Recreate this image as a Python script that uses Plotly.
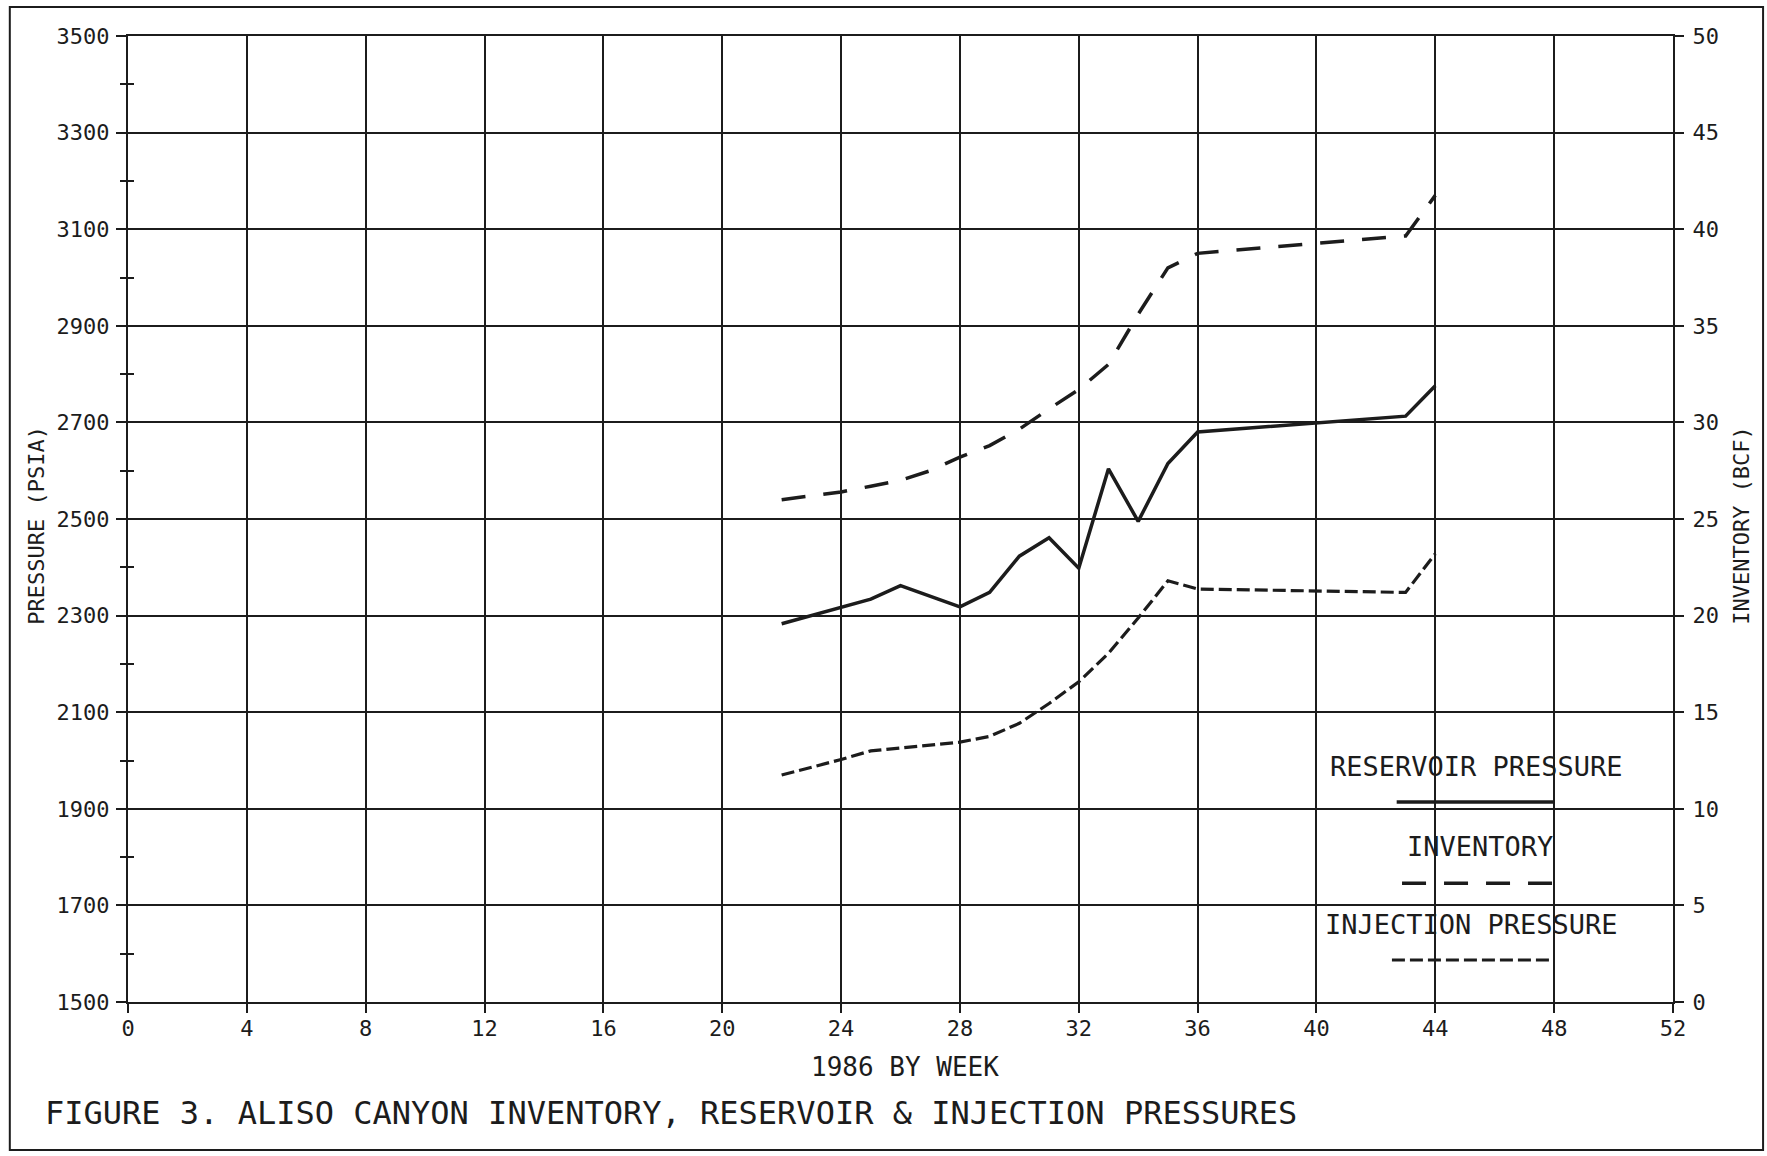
import plotly.graph_objects as go

# ---- data: 1986, by week ----
res_weeks = [22, 24, 25, 26, 28, 29, 30, 31, 32, 33, 34, 35, 36, 43, 44]
res_psia = [2283, 2316, 2334, 2362, 2318, 2348, 2423, 2461, 2398, 2604, 2495, 2615, 2680, 2713, 2776]

inv_weeks = [22, 23, 24, 25, 26, 27, 28, 29, 30, 31, 32, 33, 34, 35, 36, 43, 44]
inv_bcf = [26.0, 26.2, 26.4, 26.7, 27.0, 27.5, 28.2, 28.8, 29.65, 30.7, 31.7, 33.0, 35.6, 38.0, 38.75, 39.65, 41.75]

inj_weeks = [22, 23, 24, 25, 26, 27, 28, 29, 30, 31, 32, 33, 34, 35, 36, 43, 44]
inj_psia = [1970, 1986, 2002, 2020, 2026, 2032, 2038, 2050, 2077, 2118, 2163, 2222, 2295, 2372, 2355, 2348, 2428]

week_ticks = list(range(0, 53, 4))
psia_ticks = list(range(1500, 3501, 200))
psia_minor = list(range(1600, 3500, 200))
bcf_ticks = list(range(0, 51, 5))

series_names = ["RESERVOIR PRESSURE", "INVENTORY", "INJECTION PRESSURE"]

INK = "#1c1c1c"
FONT = "DejaVu Sans Mono"
INV_DASH = "24px,18px"
INJ_DASH = "13px,5px"

fig = go.Figure()

fig.add_trace(go.Scatter(x=res_weeks, y=res_psia, mode="lines", name=series_names[0],
                         line=dict(color=INK, width=3.5), yaxis="y"))
fig.add_trace(go.Scatter(x=inv_weeks, y=inv_bcf, mode="lines", name=series_names[1],
                         line=dict(color=INK, width=3.5, dash=INV_DASH), yaxis="y2"))
fig.add_trace(go.Scatter(x=inj_weeks, y=inj_psia, mode="lines", name=series_names[2],
                         line=dict(color=INK, width=3.2, dash=INJ_DASH), yaxis="y"))
# carrier for the inner half of the cross-shaped minor ticks on the pressure axis
fig.add_trace(go.Scatter(x=[None], y=[None], yaxis="y3", showlegend=False, hoverinfo="skip"))

tick_font = dict(family=FONT, size=22, color=INK)

fig.update_layout(
    width=1767, height=1156,
    margin=dict(l=128, r=94, t=36, b=154),
    paper_bgcolor="white", plot_bgcolor="white",
    showlegend=False,
    xaxis=dict(range=[0, 52], tickvals=week_ticks, showgrid=True, gridcolor=INK, gridwidth=1.6,
               showline=True, linecolor=INK, linewidth=2, mirror=True, zeroline=False,
               ticks="outside", ticklen=9, tickwidth=2, tickcolor=INK,
               tickfont=tick_font, ticklabelstandoff=-3),
    yaxis=dict(range=[1500, 3500], tickvals=psia_ticks, showgrid=True, gridcolor=INK, gridwidth=1.6,
               showline=True, linecolor=INK, linewidth=2.2, mirror=True, zeroline=False,
               ticks="outside", ticklen=10, tickwidth=2, tickcolor=INK,
               minor=dict(tickvals=psia_minor, ticks="outside", ticklen=6, tickwidth=2, tickcolor=INK),
               tickfont=tick_font, ticklabelstandoff=2),
    yaxis2=dict(range=[0, 50], tickvals=bcf_ticks, overlaying="y", side="right", anchor="x",
                showgrid=False, zeroline=False, showline=False,
                ticks="outside", ticklen=10, tickwidth=2, tickcolor=INK,
                tickfont=tick_font, ticklabelstandoff=4),
    yaxis3=dict(range=[1500, 3500], tickvals=psia_minor, overlaying="y", side="left", anchor="x",
                showgrid=False, zeroline=False, showline=False, showticklabels=False,
                ticks="inside", ticklen=6, tickwidth=2, tickcolor=INK),
)

# in-plot key: label above a sample of each line style
key_text = [
    (series_names[0], 45.40, 1987),
    (series_names[1], 45.50, 1822),
    (series_names[2], 45.23, 1660),
]
for txt, kx, ky in key_text:
    fig.add_annotation(x=kx, y=ky, xref="x", yref="y", text=txt, showarrow=False,
                       xanchor="center", yanchor="middle",
                       font=dict(family=FONT, size=27, color=INK))

key_lines = [
    (42.7, 48.0, 1914, None, 3.5),
    (42.88, 47.93, 1746, INV_DASH, 3.5),
    (42.54, 47.86, 1587, INJ_DASH, 3.2),
]
for x0, x1, ky, dash, w in key_lines:
    line = dict(color=INK, width=w)
    if dash:
        line["dash"] = dash
    fig.add_shape(type="line", xref="x", yref="y", x0=x0, x1=x1, y0=ky, y1=ky, line=line)

# axis titles and figure caption
fig.add_annotation(x=-0.059, y=0.494, xref="paper", yref="paper", text="PRESSURE (PSIA)",
                   textangle=-90, showarrow=False, xanchor="center", yanchor="middle",
                   font=dict(family=FONT, size=22, color=INK))
fig.add_annotation(x=1.0447, y=0.493, xref="paper", yref="paper", text="INVENTORY (BCF)",
                   textangle=-90, showarrow=False, xanchor="center", yanchor="middle",
                   font=dict(family=FONT, size=22, color=INK))
fig.add_annotation(x=0.5026, y=-0.067, xref="paper", yref="paper", text="1986 BY WEEK",
                   showarrow=False, xanchor="center", yanchor="middle",
                   font=dict(family=FONT, size=26, color=INK))
fig.add_annotation(x=-0.055, y=-0.115, xref="paper", yref="paper", xanchor="left", yanchor="middle",
                   text="FIGURE 3. ALISO CANYON INVENTORY, RESERVOIR & INJECTION PRESSURES",
                   showarrow=False, font=dict(family=FONT, size=32, color=INK))

# page frame
fig.add_shape(type="rect", xref="paper", yref="paper", x0=-0.0765, x1=1.0583, y0=-0.1532, y1=1.030,
              line=dict(color=INK, width=2), layer="below")

fig.write_html("out.html")
